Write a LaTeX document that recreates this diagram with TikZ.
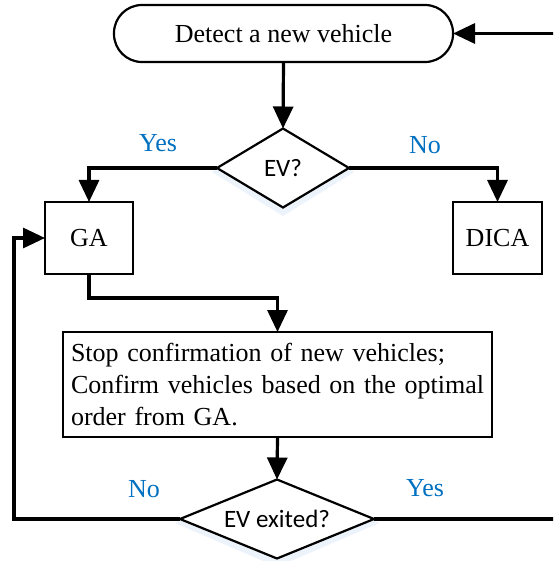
\documentclass[tikz,border=0pt]{standalone}
\usepackage{fontspec}
\setmainfont{Liberation Serif}
\newfontfamily\calib{Carlito}
\usetikzlibrary{shapes.geometric,arrows.meta}
\definecolor{lblue}{RGB}{0,112,192}
\definecolor{glowc}{RGB}{214,228,246}

\begin{document}
\begin{tikzpicture}[x=1pt,y=-1pt,
  txt/.style={font=\fontsize{26}{32}\selectfont},
  box/.style={txt, draw, line width=2.2pt, inner sep=0pt, outer sep=0pt},
  term/.style={box, rectangle, rounded corners=28pt},
  decide/.style={draw, line width=2.2pt, diamond, fill=white, inner sep=0pt, outer sep=0pt,
    font=\calib\fontsize{25}{30}\selectfont},
  glow/.style={diamond, inner sep=0pt, outer sep=0pt, fill=glowc, opacity=0.45},
  flow/.style={line width=3.2pt, -{Triangle[length=22pt,width=20pt]}},
  lbl/.style={txt, text=lblue}
]
\useasboundingbox (0,0) rectangle (553,561);
\clip (0,0) rectangle (553,561);

% soft halo under the decision diamonds
\node[glow, aspect=1.6, minimum width=142pt, minimum height=88pt] (evhalo) at (283,172) {};
\node[glow, aspect=2.32, minimum width=204pt, minimum height=88pt] (exhalo) at (277,523) {};

% nodes
\node[term, minimum width=339pt, minimum height=57pt] (start) at (283.5,33.5) {Detect a new vehicle};
\node[decide, aspect=1.67, minimum width=132pt, minimum height=79pt] (ev) at (283,168) {EV?};
\node[box, minimum width=88pt, minimum height=72pt] (ga) at (89,238) {GA};
\node[box, minimum width=89pt, minimum height=72pt] (dica) at (497.5,238) {DICA};
\node[box, text width=413pt, align=left, inner xsep=8pt, minimum height=105pt] (conf) at (277.5,384.5)
  {\mbox{Stop confirmation of new vehicles;}\\\mbox{Confirm vehicles based on the optimal}\\\mbox{order from GA.}};
\node[decide, aspect=2.456, minimum width=194pt, minimum height=79pt] (exit) at (277,519) {EV exited?};

% branch labels
\node[lbl] (yes1) at (158,143) {Yes};
\node[lbl] (no1) at (425,145) {No};
\node[lbl] (no2) at (144,489) {No};
\node[lbl] (yes2) at (425,488) {Yes};

% connectors
\draw[flow] (start.south) -- (ev.north);
\draw[flow] (ev.west) -| (ga.north);
\draw[flow] (ev.east) -| (dica.north);
\draw[flow] (ga.south) -- ++(0,24) -| (conf.north);
\draw[flow] (conf.south) -- (exit.north);
\draw[flow] (exit.west) -- ++(-166,0) |- (ga.west);
\draw[flow] (exit.east) -- ++(190,0) |- (start.east);
\end{tikzpicture}
\end{document}
